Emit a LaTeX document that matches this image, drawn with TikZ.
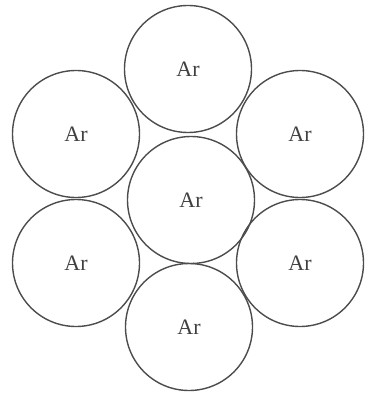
\documentclass[tikz,border=0pt]{standalone}
\usepackage{fontspec}
\setmainfont{Liberation Serif}
\begin{document}
\begin{tikzpicture}[x=1pt,y=-1pt,
  atom/.style={circle,draw=black!70,line width=1.4pt,minimum size=127pt,inner sep=0pt,
    text=black!75,font=\fontsize{22}{22}\selectfont}]
\useasboundingbox (0,0) rectangle (364,393);
\node[atom] (t) at (188,69) {Ar};
\node[atom] (c) at (191,200) {Ar};
\node[atom] (ul) at (76,134) {Ar};
\node[atom] (ur) at (300,134) {Ar};
\node[atom] (ll) at (76,263) {Ar};
\node[atom] (lr) at (300,263) {Ar};
\node[atom] (b) at (189,327) {Ar};
\end{tikzpicture}
\end{document}
